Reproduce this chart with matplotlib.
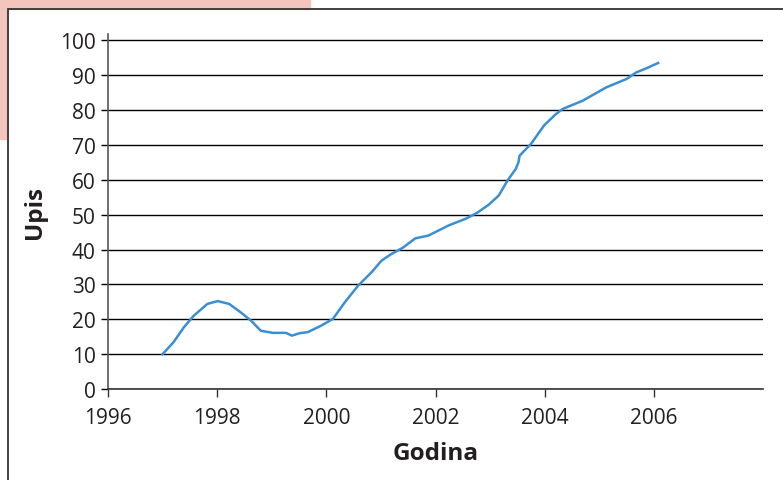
import matplotlib
matplotlib.use("Agg")
import matplotlib.pyplot as plt
from matplotlib.patches import Rectangle

# values
godina = [1997.0, 1997.2, 1997.39, 1997.57, 1997.82, 1998.01, 1998.22, 1998.43,
          1998.62, 1998.8, 1999.02, 1999.26, 1999.37, 1999.51, 1999.66, 1999.91,
          2000.12, 2000.34, 2000.58, 2000.83, 2001.01, 2001.19, 2001.4, 2001.63,
          2001.87, 2002.24, 2002.55, 2002.76, 2002.98, 2003.16, 2003.32, 2003.47,
          2003.52, 2003.54, 2003.75, 2003.99, 2004.21, 2004.33, 2004.7, 2005.13,
          2005.5, 2005.68, 2005.87, 2006.08]
upis = [10.0, 13.4, 17.7, 21.0, 24.4, 25.2, 24.4, 22.0,
        19.6, 16.7, 16.1, 16.1, 15.3, 16.0, 16.3, 18.2,
        20.1, 24.9, 29.6, 33.5, 36.8, 38.7, 40.5, 43.2,
        44.0, 46.9, 48.8, 50.5, 52.9, 55.5, 59.8, 63.1,
        65.0, 66.9, 70.3, 75.6, 78.9, 80.3, 82.7, 86.5,
        88.9, 90.8, 92.0, 93.5]
x_ticks = [1996, 1998, 2000, 2002, 2004, 2006]
y_ticks = [0, 10, 20, 30, 40, 50, 60, 70, 80, 90, 100]

plt.rcParams["font.family"] = ["Open Sans", "DejaVu Sans"]

fig = plt.figure(figsize=(7.83, 4.81), dpi=100)
fig.patch.set_facecolor("white")

# pink scan background at top-left and the frame around the chart
pink = "#f3c5bc"
fig.patches.append(Rectangle((0, 1 - 10 / 481), 310 / 783, 10 / 481,
                             transform=fig.transFigure, color=pink, zorder=0))
fig.patches.append(Rectangle((0, 1 - 140 / 481), 7 / 783, 140 / 481,
                             transform=fig.transFigure, color=pink, zorder=0))
fig.patches.append(Rectangle((8 / 783, -0.05), 1.0, 1 - 10 / 481 + 0.05,
                             transform=fig.transFigure, fill=False,
                             edgecolor="#333333", linewidth=1.3, zorder=1))

ax = fig.add_axes([108 / 783, 1 - 390 / 481, (763 - 108) / 783, (390 - 35) / 481])
ax.set_facecolor("none")

ax.plot(godina, upis, color="#3a8fd4", linewidth=1.8, zorder=3)

ax.set_xlim(1996, 2008)
ax.set_ylim(0, 101.8)
ax.set_xticks(x_ticks)
ax.set_yticks(y_ticks)
ax.grid(axis="y", color="black", linewidth=1.0)
ax.set_axisbelow(True)

for s in ["top", "right"]:
    ax.spines[s].set_visible(False)
ax.spines["left"].set_color("#555555")
ax.spines["bottom"].set_color("#333333")
ax.spines["left"].set_linewidth(1.2)
ax.spines["bottom"].set_linewidth(1.2)
ax.tick_params(axis="y", length=5, width=1.0, color="black", labelsize=15,
               labelcolor="#231f20", pad=4)
ax.tick_params(axis="x", length=6, width=1.0, color="#333333", labelsize=15,
               labelcolor="#231f20", pad=7)

ax.set_xlabel("Godina", fontsize=17.5, fontweight="bold", color="#231f20", labelpad=9)
ax.set_ylabel("Upis", fontsize=17.5, fontweight="bold", color="#231f20", labelpad=9)

fig.savefig("out.png", dpi=100)
